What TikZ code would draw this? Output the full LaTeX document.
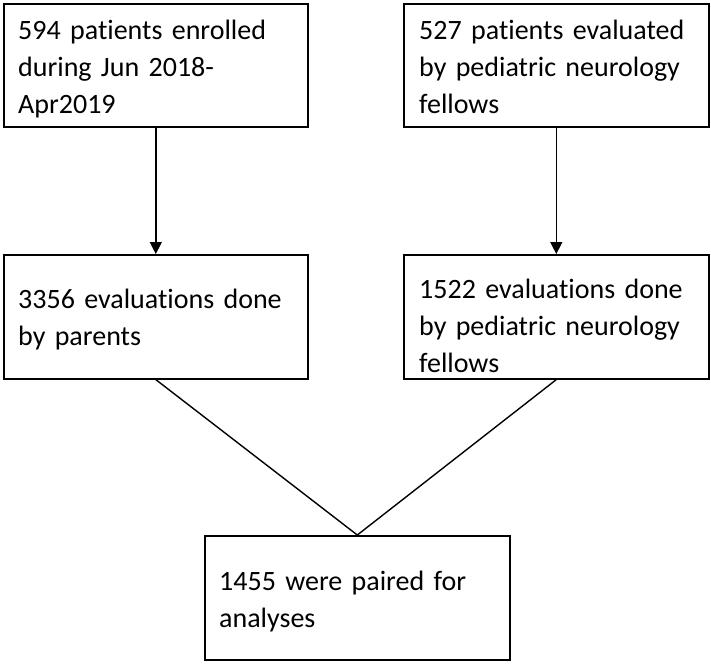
\documentclass[tikz,border=0pt]{standalone}
\usepackage{fontspec}
\setmainfont{Carlito}[RawFeature=-liga]
\usetikzlibrary{arrows.meta}
\begin{document}
\begin{tikzpicture}[x=1pt,y=-1pt,
  box/.style={draw=black,line width=1.6pt,inner sep=0pt,anchor=north west},
  txt/.style={anchor=base west,inner sep=0pt,align=left,text width=300pt,
    font=\fontsize{28}{37}\selectfont},
  conn/.style={line width=1.4pt},
  arr/.style={conn,-{Triangle[length=12pt,width=12pt]}}]
\useasboundingbox (0,0) rectangle (711,664);
\node[box,minimum width=304pt,minimum height=123pt] (A) at (3,3) {};
\node[box,minimum width=305pt,minimum height=123pt] (B) at (403,3) {};
\node[box,minimum width=304pt,minimum height=124pt] (C) at (3,254) {};
\node[box,minimum width=305pt,minimum height=124pt] (D) at (403,254) {};
\node[box,minimum width=305pt,minimum height=124pt] (E) at (204,535) {};
\node[txt] (tA) at (18,39) {594 patients enrolled\\during Jun 2018-\\Apr2019};
\node[txt] (tB) at (419,39) {527 patients evaluated\\by pediatric neurology\\fellows};
\node[txt] (tC) at (18,308) {3356 evaluations done\\by parents};
\node[txt] (tD) at (419,298) {1522 evaluations done\\by pediatric neurology\\fellows};
\node[txt] (tE) at (219,590) {1455 were paired for\\analyses};
\draw[arr] (A.south) -- (C.north);
\draw[arr] (B.south) -- (D.north);
\draw[conn] (C.south) -- (E.north);
\draw[conn] (D.south) -- (E.north);
\end{tikzpicture}
\end{document}
